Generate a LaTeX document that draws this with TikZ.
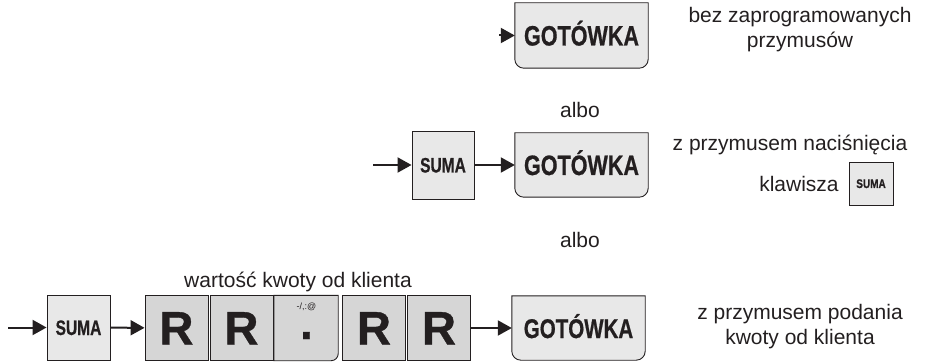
\documentclass[tikz,border=0pt]{standalone}
\usepackage{fontspec}
\usepackage{graphicx}
\setmainfont{Liberation Sans}
\newfontfamily\keyfont[FakeBold=0.8]{Liberation Sans Bold}
\usetikzlibrary{arrows.meta,backgrounds}
\definecolor{keyfill}{HTML}{E8E8E8}
\definecolor{rfill}{HTML}{D6D6D6}
\definecolor{ink}{HTML}{231F20}
\newcommand\keylbl[3]{\scalebox{#1}[1]{\fontsize{#2}{#2}\keyfont #3}}
\newcommand\gshape[2]{\draw[keyline,fill=keyfill] (#1.north west) -- (#1.north east) -- ([yshift=#2]#1.south east) arc[start angle=0,end angle=-90,radius=#2] -- ([xshift=#2]#1.south west) arc[start angle=270,end angle=180,radius=#2] -- cycle;}
\begin{document}
\begin{tikzpicture}[x=1pt,y=1pt,
  lbl/.style={font=\fontsize{21}{25}\selectfont, text=ink, align=center, inner sep=0pt},
  keyline/.style={draw=ink, line width=0.9pt},
  sumabox/.style={keyline, fill=keyfill, inner sep=0pt, text=ink, text height=15pt, text depth=0pt},
  gbox/.style={inner sep=0pt, text=ink, text height=20pt, text depth=0pt, minimum width=133pt, minimum height=64pt},
  rbox/.style={keyline, fill=rfill, inner sep=0pt, text=ink, minimum width=63pt, minimum height=65pt, text height=33pt, text depth=0pt},
  arr/.style={line width=2pt, draw=ink, -{Triangle[length=14pt,width=15pt]}}
]
\useasboundingbox (0,0) rectangle (925,-363);

% ---- row 1
\coordinate (a1) at (499,-35.5);
\node[gbox, minimum height=65pt] (g1) at (581.5,-35.5) {\keylbl{0.77}{28}{GOTÓWKA}};
\node[lbl] (t1) at (800,-30) {bez zaprogramowanych\\przymusów};
\draw[arr] (a1) -- (g1);

\node[lbl] (albo1) at (580,-110) {albo};

% ---- row 2
\coordinate (a2) at (373,-165);
\node[sumabox, minimum width=62pt, minimum height=68pt] (s2) at (443,-165) {\keylbl{0.74}{21}{SUMA}};
\node[gbox] (g2) at (581.5,-165) {\keylbl{0.77}{28}{GOTÓWKA}};
\draw[arr] (a2) -- (s2);
\draw[arr] (s2) -- (g2);
\node[lbl] (t2) at (790,-145) {z przymusem naciśnięcia};
\node[lbl, anchor=base] (t3) at (799,-192) {klawisza};
\node[sumabox, minimum width=44pt, minimum height=43pt, text height=9pt] (s2b) at (871,-183.5) {\keylbl{0.8}{12.5}{SUMA}};

\node[lbl] (albo2) at (580,-240) {albo};

% ---- row 3
\node[lbl] (t4) at (298,-282) {wartość kwoty od klienta};
\coordinate (a3) at (8,-327.5);
\node[sumabox, minimum width=63pt, minimum height=65pt] (s3) at (78.5,-327.5) {\keylbl{0.74}{21}{SUMA}};
\node[rbox] (r1) at (176.5,-328) {\keylbl{1}{47}{R}};
\node[rbox] (r2) at (241.5,-328) {\keylbl{1}{47}{R}};
\node[inner sep=0pt, minimum width=64pt, minimum height=65pt] (dk) at (306,-328) {};
\node[inner sep=0pt, text=ink, anchor=base, text height=7pt, text depth=0pt] (dkd) at (306.5,-339)
  {\makebox[0pt]{\raisebox{29.5pt}{\fontsize{9}{9}\selectfont -/,:@}}\makebox[0pt]{\keylbl{1}{46}{.}}};
\node[rbox] (r3) at (374,-328) {\keylbl{1}{47}{R}};
\node[rbox] (r4) at (439,-328) {\keylbl{1}{47}{R}};
\node[gbox] (g3) at (578.5,-328) {\keylbl{0.76}{27}{GOTÓWKA}};
\draw[arr] (a3) -- (s3);
\draw[arr] (s3) -- (r1);
\draw[arr] (r4) -- (g3);
\node[lbl] (t5) at (800,-327) {z przymusem podania\\kwoty od klienta};

\begin{scope}[on background layer]
\gshape{g1}{9pt}
\gshape{g2}{9pt}
\gshape{g3}{9pt}
\draw[keyline, fill=rfill] (dk.north west) -- (dk.north east) -- ([yshift=7pt]dk.south east) arc[start angle=0,end angle=-90,radius=7pt] -- (dk.south west) -- cycle;
\end{scope}
\end{tikzpicture}
\end{document}
